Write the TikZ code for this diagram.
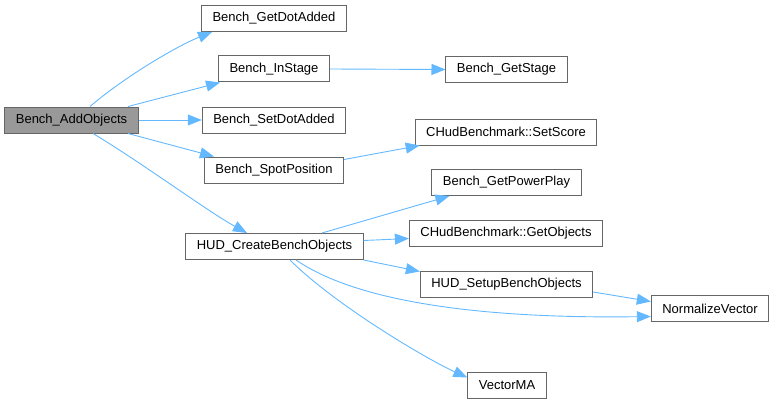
\documentclass[tikz,border=0pt]{standalone}
\usepackage{fontspec}
\setmainfont{Liberation Sans}
\usetikzlibrary{arrows.meta}
\definecolor{edgeblue}{HTML}{63B8FF}
\definecolor{boxgray}{HTML}{666666}
\definecolor{rootgray}{HTML}{999999}
\begin{document}
\begin{tikzpicture}[
    x=1pt, y=-1pt,
    % Estilos de las cajas
    fnbox/.style={draw=boxgray, line width=1pt, fill=white, inner xsep=11pt,
                  inner ysep=0pt, minimum height=26pt, text=black,
                  font=\fontsize{13}{15}\selectfont},
    rootbox/.style={fnbox, fill=rootgray},
    % Estilo de las flechas
    call/.style={draw=edgeblue, line width=0.9pt,
                 -{Triangle[length=14pt,width=11pt]}}
]
\useasboundingbox (0,0) rectangle (774,404);

% --- NODOS ---
\node[rootbox] (add) at (71.5,120) {Bench\_AddObjects};
\node[fnbox] (getdot) at (274,18.5) {Bench\_GetDotAdded};
\node[fnbox] (instage) at (274,69) {Bench\_InStage};
\node[fnbox] (getstage) at (506.5,69.5) {Bench\_GetStage};
\node[fnbox] (setdot) at (274,120) {Bench\_SetDotAdded};
\node[fnbox] (spot) at (274,170) {Bench\_SpotPosition};
\node[fnbox] (setscore) at (506,132) {CHudBenchmark::SetScore};
\node[fnbox] (power) at (506.5,182.5) {Bench\_GetPowerPlay};
\node[fnbox] (hud) at (274.5,246.5) {HUD\_CreateBenchObjects};
\node[fnbox] (getobj) at (506,233.5) {CHudBenchmark::GetObjects};
\node[fnbox] (setup) at (506.5,284) {HUD\_SetupBenchObjects};
\node[fnbox] (normal) at (710,308.5) {NormalizeVector};
\node[fnbox] (vecma) at (507,385.5) {VectorMA};

% --- LLAMADAS ---
\draw[call] ([xshift=18.5pt]add.north) .. controls +(35,-30) and +(-35,14) .. ([xshift=11pt]getdot.south west);
\draw[call] ([xshift=56.5pt]add.north) -- ([xshift=2pt]instage.south west);
\draw[call] (add.east) -- (setdot.west);
\draw[call] ([xshift=56.5pt]add.south) -- ([xshift=10pt]spot.north west);
\draw[call] ([xshift=21.5pt]add.south) .. controls +(50,30) and +(-40,-22) .. ([xshift=-27.5pt]hud.north);
\draw[call] (instage.east) -- (getstage.west);
\draw[call] ([yshift=-3pt]spot.north east) -- ([xshift=5pt]setscore.south west);
\draw[call] ([xshift=47.5pt]hud.north) -- ([xshift=18pt]power.south west);
\draw[call] ([yshift=6pt]hud.east) -- ([yshift=-5pt]getobj.west);
\draw[call] (hud.south east) -- ([yshift=-1pt]setup.north west);
\draw[call] ([xshift=21.5pt]hud.south) .. controls +(70,48) and +(-140,2) .. ([yshift=-8pt]normal.west);
\draw[call] ([xshift=15.5pt]hud.south) .. controls +(45,45) and +(-40,-18) .. ([yshift=8pt]vecma.west);
\draw[call] ([yshift=-8pt]setup.east) -- ([yshift=7pt]normal.west);

\end{tikzpicture}
\end{document}
